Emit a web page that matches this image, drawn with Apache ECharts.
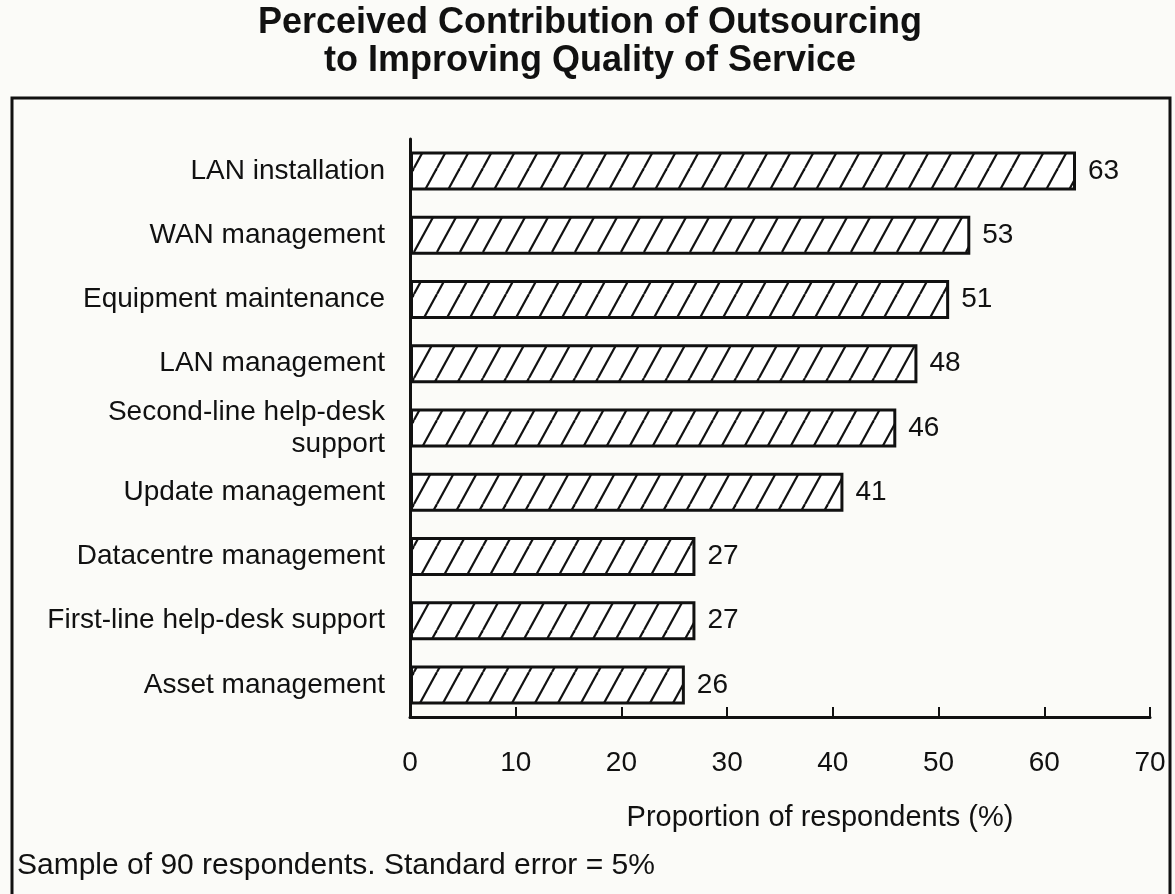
<!DOCTYPE html>
<html>
<head>
<meta charset="utf-8">
<title>Perceived Contribution of Outsourcing</title>
<script src="https://cdn.jsdelivr.net/npm/echarts@6/dist/echarts.min.js"></script>
<style>
    html, body { margin: 0; padding: 0; background: #fbfbf8; }
    #chartBar { width: 1175px; height: 894px; }
</style>
</head>
<body>
<div id="chartBar"></div>
<script>
    // data
    var categories = [
        'LAN installation',
        'WAN management',
        'Equipment maintenance',
        'LAN management',
        'Second-line help-desk\nsupport',
        'Update management',
        'Datacentre management',
        'First-line help-desk support',
        'Asset management'
    ];
    var values = [63, 53, 51, 48, 46, 41, 27, 27, 26];
    var titleLines = ['Perceived Contribution of Outsourcing', 'to Improving Quality of Service'];
    var axisTitle = 'Proportion of respondents (%)';
    var footnote = 'Sample of 90 respondents. Standard error = 5%';

    var font = '"Liberation Sans", Arial, Helvetica, sans-serif';

    // hatch tile: "/" lines
    function makeHatch() {
        var w = 23, h = 42;
        var c = document.createElement('canvas');
        c.width = w; c.height = h;
        var ctx = c.getContext('2d');
        ctx.fillStyle = '#ffffff';
        ctx.fillRect(0, 0, w, h);
        ctx.strokeStyle = '#111';
        ctx.lineWidth = 2.2;
        [-w, 0, w].forEach(function (x0) {
            ctx.beginPath();
            ctx.moveTo(x0, h);
            ctx.lineTo(x0 + w, 0);
            ctx.stroke();
        });
        return c;
    }

    var chartBar = echarts.init(document.getElementById('chartBar'));
    chartBar.setOption({
        backgroundColor: '#fbfbf8',
        animation: false,
        textStyle: { fontFamily: font },
        grid: { left: 410, right: 25, top: 139, bottom: 177 },
        xAxis: {
            type: 'value',
            min: 0,
            max: 70,
            interval: 10,
            name: axisTitle,
            nameLocation: 'middle',
            nameGap: 86,
            nameTextStyle: { fontSize: 29, color: '#111', padding: [0, 0, 0, 80] },
            axisLine: { show: true, lineStyle: { color: '#111', width: 3 } },
            axisTick: { show: true, inside: true, length: 10, lineStyle: { color: '#111', width: 2 } },
            axisLabel: { fontSize: 28, color: '#111', margin: 32 },
            splitLine: { show: false }
        },
        yAxis: {
            type: 'category',
            inverse: true,
            data: categories,
            axisLine: { show: true, lineStyle: { color: '#111', width: 3 } },
            axisTick: { show: false },
            axisLabel: { fontSize: 28, color: '#111', margin: 25, lineHeight: 32, align: 'right' }
        },
        series: [{
            type: 'bar',
            data: values,
            barWidth: 39,
            itemStyle: {
                color: { image: makeHatch(), repeat: 'repeat' },
                borderColor: '#111',
                borderWidth: 3
            },
            label: {
                show: true,
                position: 'right',
                distance: 12,
                fontSize: 28,
                color: '#111'
            }
        }],
        graphic: [
            {
                type: 'rect',
                shape: { x: 12, y: 98, width: 1158, height: 830 },
                style: { fill: 'none', stroke: '#111', lineWidth: 3 },
                silent: true
            },
            {
                type: 'text', x: 590, y: 23,
                style: { text: titleLines[0], font: 'bold 36px ' + font, fill: '#111', textAlign: 'center', textVerticalAlign: 'middle' }
            },
            {
                type: 'text', x: 590, y: 61,
                style: { text: titleLines[1], font: 'bold 36px ' + font, fill: '#111', textAlign: 'center', textVerticalAlign: 'middle' }
            },
            {
                type: 'text', x: 17, y: 866,
                style: { text: footnote, font: '30px ' + font, fill: '#111', textAlign: 'left', textVerticalAlign: 'middle' }
            }
        ]
    });
</script>
</body>
</html>
